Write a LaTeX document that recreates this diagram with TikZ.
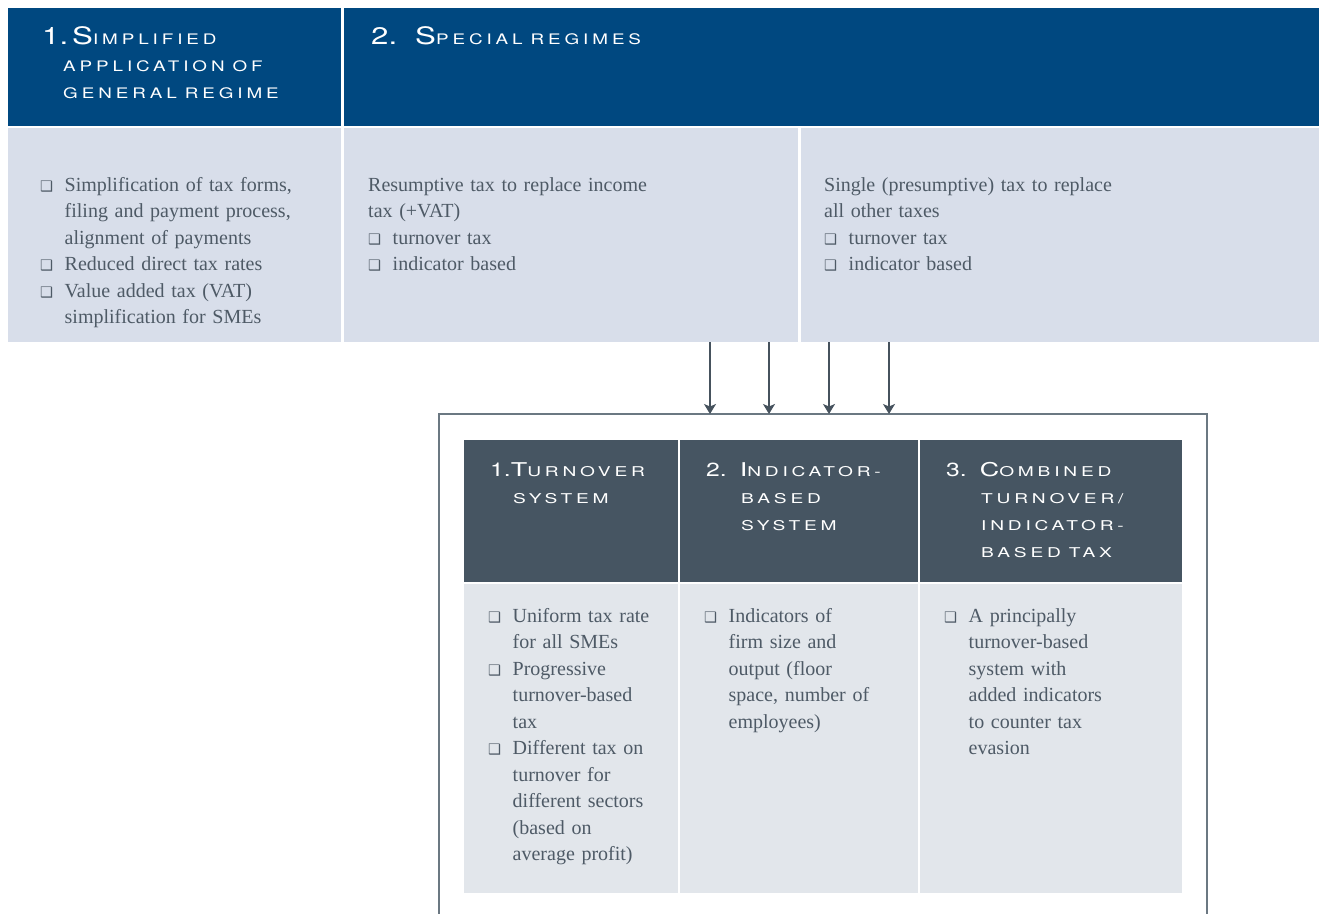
\documentclass[tikz,border=0pt]{standalone}
\usepackage{fontspec}
\setmainfont{Liberation Serif}
\newfontfamily\capsfont[FakeStretch=1.3,LetterSpace=27]{TeX Gyre Heros}
\newfontfamily\capsfontsm[FakeStretch=1.42,LetterSpace=28]{TeX Gyre Heros}
\newfontfamily\numfont[FakeStretch=1.3]{TeX Gyre Heros}
\newfontfamily\boxfont{DejaVu Sans}
\usetikzlibrary{positioning}
\usetikzlibrary{arrows.meta}
\definecolor{navyblue}{HTML}{004880}
\definecolor{paleblue}{HTML}{D8DEEA}
\definecolor{slategrey}{HTML}{465562}
\definecolor{palegrey}{HTML}{E2E6EB}
\definecolor{framegrey}{HTML}{6B7882}
\definecolor{textgrey}{HTML}{4E5A66}
\definecolor{arrowgrey}{HTML}{46525D}
\newcommand{\capsize}{24}
\newcommand{\capbig}[1]{{\fontsize{\capsize}{27}\selectfont #1}}
\newcommand{\capnum}[1]{{\numfont\fontsize{\capsize}{27}\selectfont #1}}
\newcommand{\wsp}{\hspace{8pt}}
\newcommand{\hanging}[1]{\hangindent=#1\hangafter=1\relax}
\newcommand{\bulbox}{\makebox[24.5pt][l]{\boxfont\fontsize{14.5}{14.5}\selectfont ❑}}
\newcommand{\bfirst}{\hangindent=24.5pt\hangafter=1\noindent\bulbox}
\newcommand{\bitem}{\par\bfirst}

\begin{document}
\begin{tikzpicture}[x=1pt,y=-1pt]
	\tikzset{panel/.style = {anchor=north west, inner sep=0pt, outer sep=0pt},
		topblue/.style = {panel, fill=navyblue, minimum height=118pt},
		toppale/.style = {panel, fill=paleblue, minimum height=214pt},
		tabhead/.style = {panel, fill=slategrey, minimum height=142pt},
		tabbody/.style = {panel, fill=palegrey, minimum height=309pt},
		headtxt/.style = {anchor=base west, inner sep=0pt, text=white, align=left, font=\capsfont\fontsize{14.5}{27}\selectfont},
		smallhead/.style = {headtxt, font=\capsfontsm\fontsize{13.5}{27}\selectfont\def\capsize{19}},
		bodytxt/.style = {anchor=base west, inner sep=0pt, text=textgrey, align=left, font=\fontsize{20}{26.5}\selectfont},
		arr/.style = {-{Stealth[length=10pt,width=12pt,inset=2.5pt]}, line width=1.3pt, draw=arrowgrey}}
	\clip (0,0) rectangle (1319,913);
	
	\node[topblue, minimum width=333pt] (GENHEAD) at (8,8) {};
	\node[topblue, minimum width=975pt, right=3pt of GENHEAD] (SPECHEAD) {};
	\node[toppale, minimum width=333pt, below=2pt of GENHEAD] (GENBODY) {};
	\node[toppale, minimum width=454pt, right=3pt of GENBODY] (PRESBODY) {};
	\node[toppale, minimum width=518pt, right=3pt of PRESBODY] (SINGBODY) {};
	
	\node[headtxt, text width=290pt] (GENTITLE) at (42,44)
	{\hanging{21pt}\capnum{1.}\hspace{4pt}\capbig{S}IMPLIFIED\newline APPLICATION\wsp OF\newline GENERAL\wsp REGIME\par};
	\node[headtxt, text width=600pt] (SPECTITLE) at (371,44) {\capnum{2.}\hspace{18pt}\capbig{S}PECIAL\wsp REGIMES\par};
	
	\node[bodytxt, text width=290pt] (GENLIST) at (40,191)
	{\bfirst Simplification of tax forms,\newline filing and payment process,\newline alignment of payments
		\bitem Reduced direct tax rates
		\bitem Value added tax (VAT)\newline simplification for SMEs\par};
	\node[bodytxt, text width=420pt] (PRESLIST) at (368,191)
	{Resumptive tax to replace income\newline tax (+VAT)
		\bitem turnover tax
		\bitem indicator based\par};
	\node[bodytxt, text width=480pt] (SINGLIST) at (824,191)
	{Single (presumptive) tax to replace\newline all other taxes
		\bitem turnover tax
		\bitem indicator based\par};
	
	\node[panel, draw=framegrey, line width=1.5pt, minimum width=768pt, minimum height=540pt] (FRAME) at (439,414) {};
	
	\node[tabhead, minimum width=214pt] (TURNHEAD) at (464,440) {};
	\node[tabhead, minimum width=238pt, right=2pt of TURNHEAD] (INDHEAD) {};
	\node[tabhead, minimum width=262pt, right=2pt of INDHEAD] (COMBHEAD) {};
	\node[tabbody, minimum width=214pt, below=2pt of TURNHEAD] (TURNBODY) {};
	\node[tabbody, minimum width=238pt, below=2pt of INDHEAD] (INDBODY) {};
	\node[tabbody, minimum width=262pt, below=2pt of COMBHEAD] (COMBBODY) {};
	
	\node[smallhead, text width=200pt] (TURNTITLE) at (490,476)
	{\hanging{23pt}\capnum{1.}\capbig{T}URNOVER\newline SYSTEM\par};
	\node[smallhead, text width=220pt] (INDTITLE) at (706,476)
	{\hanging{35pt}\capnum{2.}\hspace{13pt}\capbig{I}NDICATOR-\newline BASED\newline SYSTEM\par};
	\node[smallhead, text width=240pt] (COMBTITLE) at (946,476)
	{\hanging{35pt}\capnum{3.}\hspace{13pt}\capbig{C}OMBINED\newline TURNOVER/\newline INDICATOR-\newline BASED\wsp TAX\par};
	
	\node[bodytxt, text width=200pt] (TURNLIST) at (488,622)
	{\bfirst Uniform tax rate\newline for all SMEs
		\bitem Progressive\newline turnover-based\newline tax
		\bitem Different tax on\newline turnover for\newline different sectors\newline (based on\newline average profit)\par};
	\node[bodytxt, text width=220pt] (INDLIST) at (704,622)
	{\bfirst Indicators of\newline firm size and\newline output (floor\newline space, number of\newline employees)\par};
	\node[bodytxt, text width=240pt] (COMBLIST) at (944,622)
	{\bfirst A principally\newline turnover-based\newline system with\newline added indicators\newline to counter tax\newline evasion\par};
	
	\foreach \n/\x/\src in {1/710/PRESBODY, 2/769/PRESBODY, 3/829/SINGBODY, 4/889/SINGBODY}{
		\coordinate (ARR\n) at (\x,0);
		\draw[arr] (\src.south -| ARR\n) -- (FRAME.north -| ARR\n);
	}
\end{tikzpicture}
\end{document}
